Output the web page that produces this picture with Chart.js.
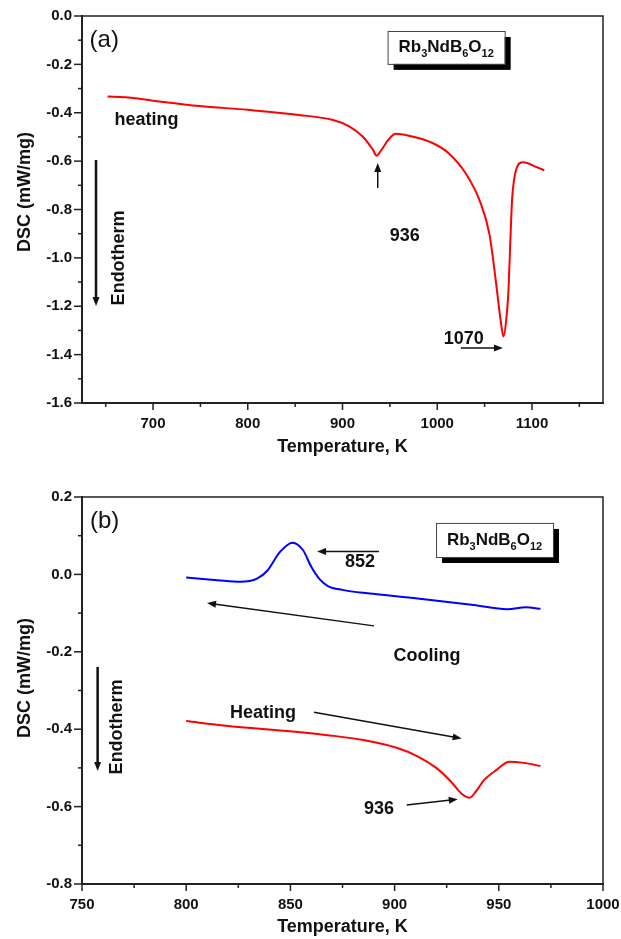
<!DOCTYPE html>
<html>
<head>
<meta charset="utf-8">
<script src="https://cdn.jsdelivr.net/npm/chart.js@4.4.1/dist/chart.umd.min.js"></script>
<style>
body{margin:0;background:#fff;}
canvas{display:block;}
</style>
</head>
<body>
<canvas id="chartA" width="621" height="470"></canvas>
<canvas id="chartB" width="621" height="469"></canvas>
<script>
// panel (a) - heating run up to 1113 K
const tempA = [652, 671, 700, 749, 800, 854, 890, 907, 921, 932, 936, 940, 946, 951, 956, 970, 995, 1012, 1030, 1045, 1055, 1062, 1067, 1070, 1073, 1075, 1077, 1079, 1081, 1085, 1090, 1095, 1105, 1113];
const dscA = [-0.333, -0.336, -0.350, -0.372, -0.388, -0.409, -0.430, -0.456, -0.497, -0.552, -0.578, -0.560, -0.525, -0.500, -0.487, -0.495, -0.525, -0.567, -0.650, -0.765, -0.900, -1.100, -1.260, -1.325, -1.250, -1.150, -0.950, -0.760, -0.680, -0.618, -0.605, -0.608, -0.625, -0.638];

// panel (b) - cooling (blue) and heating (red)
const tempCool = [800, 808, 815, 826, 834, 839, 845, 851, 856, 860, 864, 868, 875, 887, 911, 938, 954, 963, 970];
const dscCool = [-0.008, -0.012, -0.015, -0.019, -0.011, 0.010, 0.058, 0.082, 0.063, 0.020, -0.012, -0.030, -0.040, -0.049, -0.062, -0.079, -0.090, -0.085, -0.089];
const tempHeat = [800, 819, 851, 869, 885, 901, 911, 920, 927, 932, 936, 939, 943, 949, 955, 962, 970];
const dscHeat = [-0.379, -0.391, -0.406, -0.416, -0.428, -0.448, -0.470, -0.500, -0.535, -0.566, -0.577, -0.561, -0.531, -0.505, -0.484, -0.487, -0.495];

// tick labels
const xLabelsA = [700, 800, 900, 1000, 1100];
const yLabelsA = [0, -0.2, -0.4, -0.6, -0.8, -1.0, -1.2, -1.4, -1.6];
const xLabelsB = [750, 800, 850, 900, 950, 1000];
const yLabelsB = [0.2, 0, -0.2, -0.4, -0.6, -0.8];

const FONT = '"Liberation Sans", Arial, sans-serif';
const INK = '#111';

function has(list, v) {
  return list.some(l => Math.abs(l - v) < 1e-6);
}

// ticks on every multiple of the step inside the range
function stepTicks(step) {
  return sc => {
    const t = [];
    for (let v = Math.ceil(sc.min / step - 1e-9) * step; v <= sc.max + 1e-9; v += step) {
      t.push({value: Math.round(v * 1000) / 1000});
    }
    sc.ticks = t;
  };
}

function arrow(ctx, x1, y1, x2, y2, w) {
  const ang = Math.atan2(y2 - y1, x2 - x1);
  const hl = 9, hw = 3.5;
  ctx.lineWidth = w;
  ctx.beginPath();
  ctx.moveTo(x1, y1);
  ctx.lineTo(x2 - Math.cos(ang) * (hl - 2), y2 - Math.sin(ang) * (hl - 2));
  ctx.stroke();
  ctx.beginPath();
  ctx.moveTo(x2, y2);
  ctx.lineTo(x2 - hl * Math.cos(ang) + hw * Math.sin(ang), y2 - hl * Math.sin(ang) - hw * Math.cos(ang));
  ctx.lineTo(x2 - hl * Math.cos(ang) - hw * Math.sin(ang), y2 - hl * Math.sin(ang) + hw * Math.cos(ang));
  ctx.closePath();
  ctx.fill();
}

function formulaBox(ctx, l, t, r, b) {
  ctx.fillStyle = '#000';
  ctx.fillRect(l + 6, t + 6, r - l, b - t);
  ctx.fillStyle = '#fff';
  ctx.fillRect(l, t, r - l, b - t);
  ctx.strokeStyle = '#444';
  ctx.lineWidth = 1;
  ctx.strokeRect(l + 0.5, t + 0.5, r - l, b - t);
  const parts = [['Rb', 0], ['3', 1], ['NdB', 0], ['6', 1], ['O', 0], ['12', 1]];
  const big = 'bold 17px ' + FONT, small = 'bold 11px ' + FONT;
  let total = 0;
  parts.forEach(p => { ctx.font = p[1] ? small : big; total += ctx.measureText(p[0]).width; });
  let x = (l + r) / 2 - total / 2;
  const base = (t + b) / 2 + 5;
  ctx.fillStyle = INK;
  ctx.textAlign = 'left';
  ctx.textBaseline = 'alphabetic';
  parts.forEach(p => {
    ctx.font = p[1] ? small : big;
    ctx.fillText(p[0], x, p[1] ? base + 5 : base);
    x += ctx.measureText(p[0]).width;
  });
}

const decor = {
  id: 'decor',
  afterDraw(chart, args, opts) {
    const {ctx, chartArea: a, scales: {x, y}} = chart;
    ctx.save();
    ctx.strokeStyle = '#222';
    ctx.fillStyle = '#222';
    ctx.lineWidth = 1.5;
    // tick marks, outward
    x.ticks.forEach(t => {
      const px = x.getPixelForValue(t.value);
      const len = has(opts.xLabels, t.value) ? 7 : 4;
      ctx.beginPath(); ctx.moveTo(px, a.bottom); ctx.lineTo(px, a.bottom + len); ctx.stroke();
    });
    y.ticks.forEach(t => {
      const py = y.getPixelForValue(t.value);
      const len = has(opts.yLabels, t.value) ? 8 : 4;
      ctx.beginPath(); ctx.moveTo(a.left, py); ctx.lineTo(a.left - len, py); ctx.stroke();
    });
    // top and right frame
    ctx.lineWidth = 1.5;
    ctx.beginPath();
    ctx.moveTo(a.left, a.top); ctx.lineTo(a.right, a.top); ctx.lineTo(a.right, a.bottom);
    ctx.stroke();

    // y axis title
    ctx.fillStyle = INK;
    ctx.font = 'bold 18px ' + FONT;
    ctx.textAlign = 'center';
    ctx.textBaseline = 'middle';
    ctx.save();
    ctx.translate(a.left - 57, y.getPixelForValue(opts.yTitleAt));
    ctx.rotate(-Math.PI / 2);
    ctx.fillText('DSC (mW/mg)', 0, 0);
    ctx.restore();

    opts.notes.forEach(n => {
      ctx.fillStyle = INK;
      ctx.strokeStyle = INK;
      if (n.type === 'text') {
        ctx.font = (n.font || 'bold 18px ') + FONT;
        ctx.textAlign = n.align || 'center';
        ctx.textBaseline = 'middle';
        ctx.fillText(n.text, x.getPixelForValue(n.x), y.getPixelForValue(n.y));
      } else if (n.type === 'vtext') {
        ctx.font = 'bold 18px ' + FONT;
        ctx.textAlign = 'center';
        ctx.textBaseline = 'middle';
        ctx.save();
        ctx.translate(x.getPixelForValue(n.x), y.getPixelForValue(n.y));
        ctx.rotate(-Math.PI / 2);
        ctx.fillText(n.text, 0, 0);
        ctx.restore();
      } else if (n.type === 'arrow') {
        arrow(ctx, x.getPixelForValue(n.x1), y.getPixelForValue(n.y1),
          x.getPixelForValue(n.x2), y.getPixelForValue(n.y2), n.w || 1.5);
      } else if (n.type === 'box') {
        formulaBox(ctx, x.getPixelForValue(n.x1), y.getPixelForValue(n.y1),
          x.getPixelForValue(n.x2), y.getPixelForValue(n.y2));
      }
    });
    ctx.restore();
  }
};

function pts(xs, ys) {
  return xs.map((v, i) => ({x: v, y: ys[i]}));
}

function line(xs, ys, color) {
  return {
    data: pts(xs, ys),
    borderColor: color,
    borderWidth: 2,
    pointRadius: 0,
    cubicInterpolationMode: 'monotone',
    fill: false
  };
}

function makeChart(id, datasets, s, notes) {
  const tickFont = {family: FONT, size: 15, weight: 'bold'};
  return new Chart(document.getElementById(id), {
    type: 'line',
    data: {datasets: datasets},
    options: {
      responsive: false,
      animation: false,
      layout: {padding: {top: s.padTop, right: 18, left: 0, bottom: 0}},
      plugins: {
        legend: {display: false},
        tooltip: {enabled: false},
        decor: {xLabels: s.xLabels, yLabels: s.yLabels, yTitleAt: s.yTitleAt, notes: notes}
      },
      scales: {
        x: {
          type: 'linear',
          min: s.xMin, max: s.xMax,
          afterBuildTicks: stepTicks(s.xStep),
          ticks: {
            autoSkip: false, maxRotation: 0,
            padding: 12, color: INK, font: tickFont,
            callback: v => has(s.xLabels, v) ? String(v) : ''
          },
          grid: {display: false, drawTicks: false},
          border: {display: true, color: '#222', width: 2},
          title: {
            display: true, text: 'Temperature, K', color: INK,
            font: {family: FONT, size: 18, weight: 'bold'},
            padding: {top: 0, bottom: s.titlePad}
          },
          afterFit: sc => { sc.height = s.xHeight; sc.paddingLeft = 0; sc.paddingRight = 0; }
        },
        y: {
          min: s.yMin, max: s.yMax,
          afterBuildTicks: stepTicks(0.1),
          ticks: {
            autoSkip: false,
            padding: 10, color: INK, font: tickFont,
            callback: v => has(s.yLabels, v) ? Number(v).toFixed(1) : ''
          },
          grid: {display: false, drawTicks: false},
          border: {display: true, color: '#222', width: 2},
          afterFit: sc => { sc.width = 82; sc.paddingTop = 0; sc.paddingBottom = 0; }
        }
      }
    },
    plugins: [decor]
  });
}

window.onload = function () {
  makeChart('chartA', [line(tempA, dscA, '#ff0000')], {
    xMin: 625, xMax: 1175, xStep: 50, yMin: -1.6, yMax: 0,
    xLabels: xLabelsA, yLabels: yLabelsA, padTop: 16, xHeight: 67, titlePad: 12, yTitleAt: -0.728
  }, [
    {type: 'text', text: '(a)', x: 633, y: -0.1, font: '24px ', align: 'left'},
    {type: 'box', x1: 947.6, x2: 1071.2, y1: -0.062, y2: -0.198},
    {type: 'text', text: 'heating', x: 693, y: -0.43},
    {type: 'arrow', x1: 639.8, y1: -0.595, x2: 639.8, y2: -1.199, w: 2.5},
    {type: 'vtext', text: 'Endotherm', x: 664.6, y: -1.0},
    {type: 'arrow', x1: 937.2, y1: -0.711, x2: 937.2, y2: -0.608, w: 1.5},
    {type: 'text', text: '936', x: 965.8, y: -0.91},
    {type: 'text', text: '1070', x: 1028, y: -1.335},
    {type: 'arrow', x1: 1025, y1: -1.373, x2: 1069.4, y2: -1.373, w: 1.5}
  ]);

  makeChart('chartB', [line(tempCool, dscCool, '#0000ff'), line(tempHeat, dscHeat, '#ff0000')], {
    xMin: 750, xMax: 1000, xStep: 25, yMin: -0.8, yMax: 0.2,
    xLabels: xLabelsB, yLabels: yLabelsB, padTop: 27, xHeight: 55, titlePad: 1, yTitleAt: -0.268
  }, [
    {type: 'text', text: '(b)', x: 753.8, y: 0.138, font: '24px ', align: 'left'},
    {type: 'box', x1: 919.9, x2: 976.0, y1: 0.133, y2: 0.045},
    {type: 'text', text: '852', x: 883.4, y: 0.032},
    {type: 'arrow', x1: 892.5, y1: 0.059, x2: 862.8, y2: 0.059, w: 1.5},
    {type: 'arrow', x1: 890.1, y1: -0.133, x2: 810, y2: -0.074, w: 1.5},
    {type: 'text', text: 'Cooling', x: 915.5, y: -0.211},
    {type: 'text', text: 'Heating', x: 836.9, y: -0.358},
    {type: 'arrow', x1: 861.3, y1: -0.356, x2: 932.2, y2: -0.424, w: 1.5},
    {type: 'arrow', x1: 905.8, y1: -0.596, x2: 930.3, y2: -0.581, w: 1.5},
    {type: 'text', text: '936', x: 892.5, y: -0.606},
    {type: 'arrow', x1: 757.5, y1: -0.239, x2: 757.5, y2: -0.508, w: 2.5},
    {type: 'vtext', text: 'Endotherm', x: 766.8, y: -0.394}
  ]);
};
</script>
</body>
</html>
